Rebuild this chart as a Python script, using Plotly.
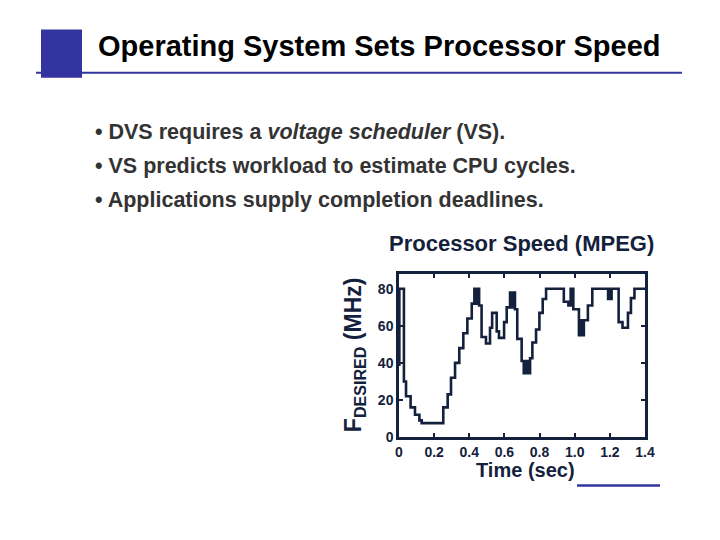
import plotly.graph_objects as go

# ---- data ----
time_s = [0.000, 0.002, 0.028, 0.040, 0.066, 0.091, 0.116, 0.129, 0.252, 0.277,
          0.296, 0.319, 0.343, 0.366, 0.389, 0.414,
          0.429, 0.433, 0.437, 0.441, 0.445, 0.449, 0.453,
          0.456, 0.470, 0.495, 0.518, 0.530, 0.556, 0.569, 0.598, 0.613,
          0.632, 0.636, 0.640, 0.644, 0.648, 0.652, 0.656,
          0.660, 0.673, 0.698,
          0.710, 0.714, 0.718, 0.722, 0.726, 0.730, 0.734, 0.738, 0.742,
          0.746, 0.759, 0.780, 0.799, 0.818, 0.837,
          0.938, 0.964, 0.977, 0.992,
          1.024, 1.028, 1.032, 1.036, 1.040, 1.044, 1.048, 1.052,
          1.056, 1.075, 1.100,
          1.190, 1.194, 1.198, 1.202, 1.206, 1.210,
          1.250, 1.272, 1.303, 1.320, 1.340, 1.400]
f_mhz = [39, 80, 30, 22, 16, 12, 9, 7.5, 16, 23,
         32, 40, 48, 56, 64, 72,
         80, 72, 80, 72, 80, 72, 80,
         71, 54, 50.5, 59, 67, 57, 53.5, 62, 70,
         78, 70, 78, 70, 78, 70, 78,
         69, 53, 41,
         34.5, 41, 34.5, 41, 34.5, 41, 34.5, 41, 34.5,
         42.5, 51, 58, 67, 74.5, 80,
         73, 71, 80, 69,
         55, 63, 55, 63, 55, 63, 55, 63,
         63, 71, 80,
         74.5, 80, 74.5, 80, 74.5, 80,
         62, 59, 67, 75, 80, 80]

x_tick_vals = [0, 0.2, 0.4, 0.6, 0.8, 1.0, 1.2, 1.4]
x_tick_text = ["0", "0.2", "0.4", "0.6", "0.8", "1.0", "1.2", "1.4"]
y_tick_vals = [0, 20, 40, 60, 80]

slide_title = "Operating System Sets Processor Speed"
bullets = ["• DVS requires a <i>voltage scheduler</i> (VS).",
           "• VS predicts workload to estimate CPU cycles.",
           "• Applications supply completion deadlines."]
chart_title = "Processor Speed (MPEG)"
x_title = "Time (sec)"
y_title = "F<sub>DESIRED</sub> (MHz)"

# ---- layout helpers (page pixel -> paper); page body has an 8px margin ----
OFF = 8
L, R, T, B = 399 - OFF, 645 - OFF, 274 - OFF, 436.7 - OFF
def px(x):
    return (x - OFF - L) / (R - L)
def py(y):
    return (B - (y - OFF)) / (B - T)

FONT = "Liberation Sans, Arial, sans-serif"
NAVY = "#13213c"
BLUE = "#3434a0"

fig = go.Figure()
fig.add_trace(go.Scatter(x=time_s, y=f_mhz, mode="lines", line_shape="hv",
                         line=dict(color=NAVY, width=2.6), hoverinfo="skip",
                         showlegend=False))

ann = []
ann.append(dict(text="<b>" + slide_title + "</b>", x=px(96), y=py(46),
                xanchor="left", yanchor="middle",
                font=dict(family=FONT, size=29, color="#000000")))
for txt, yy in zip(bullets, [132, 166, 200]):
    ann.append(dict(text="<b>" + txt + "</b>", x=px(93), y=py(yy),
                    xanchor="left", yanchor="middle",
                    font=dict(family=FONT, size=21.5, color="#333333")))
ann.append(dict(text="<b>" + chart_title + "</b>", x=px(387), y=py(244),
                xanchor="left", yanchor="middle",
                font=dict(family=FONT, size=22, color=NAVY)))
ann.append(dict(text="<b>" + x_title + "</b>", x=px(525), y=py(470),
                xanchor="center", yanchor="middle",
                font=dict(family=FONT, size=20, color=NAVY)))
ann.append(dict(text="<b>" + y_title + "</b>", x=px(354), y=py(355),
                xanchor="center", yanchor="middle", textangle=-90,
                font=dict(family=FONT, size=23, color=NAVY)))
for a in ann:
    a.update(xref="paper", yref="paper", showarrow=False)

shapes = [
    dict(type="rect", xref="paper", yref="paper", x0=px(41), x1=px(82),
         y0=py(30), y1=py(78), fillcolor=BLUE, line=dict(width=0), layer="below"),
    dict(type="line", xref="paper", yref="paper", x0=px(36), x1=px(682),
         y0=py(73), y1=py(73), line=dict(color=BLUE, width=2)),
    dict(type="line", xref="paper", yref="paper", x0=px(577), x1=px(660),
         y0=py(485), y1=py(485), line=dict(color=BLUE, width=2.5)),
]

tickfont = dict(family=FONT, size=14, color=NAVY, weight="bold")

fig.update_layout(
    width=720, height=540, autosize=False,
    margin=dict(l=L, r=720 - R, t=T, b=540 - B),
    paper_bgcolor="white", plot_bgcolor="white",
    annotations=ann, shapes=shapes,
    xaxis=dict(range=[0, 1.4], tickvals=x_tick_vals, ticktext=x_tick_text,
               showgrid=False, zeroline=False, showline=True, linecolor=NAVY,
               linewidth=2.5, mirror="ticks", ticks="inside", ticklen=4,
               tickcolor=NAVY, tickwidth=1.5, tickfont=tickfont),
    yaxis=dict(range=[0, 88], tickvals=y_tick_vals,
               showgrid=False, zeroline=False, showline=True, linecolor=NAVY,
               linewidth=2.5, mirror="ticks", ticks="inside", ticklen=4,
               tickcolor=NAVY, tickwidth=1.5, tickfont=tickfont),
)

fig.write_html("out.html")
